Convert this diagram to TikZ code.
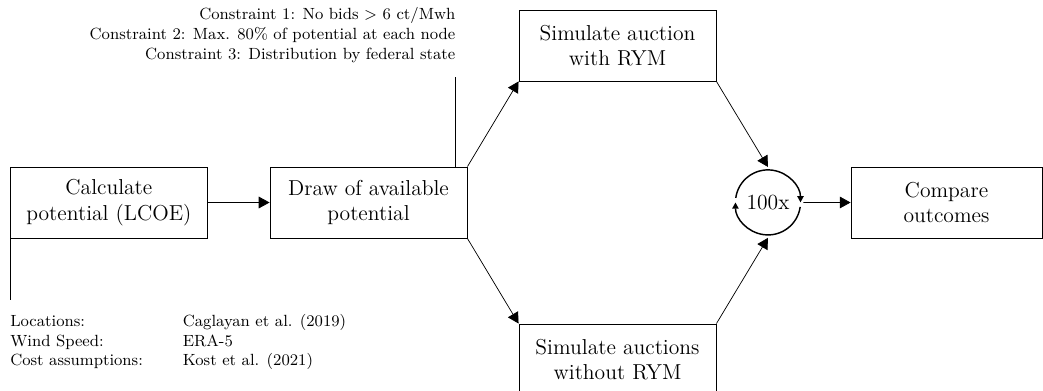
\documentclass[tikz,border=0pt]{standalone}
\usepackage{amsmath}
\usepackage{xcolor}
\usetikzlibrary{arrows.meta}
\usetikzlibrary{positioning}

\tikzset{
box/.style={draw, align=center, minimum width=3.85cm, minimum height=1.39cm, font=\large},
arr/.style={-{Triangle[length=6pt,width=6.5pt]}},
looparr/.style={thick, -{Triangle[length=3.5pt,width=3.5pt]}},
}

\begin{document}
\begin{tikzpicture}
\useasboundingbox (0,0) rectangle (20.365,-7.634);

\node[box] (calc) at (2.126,-3.954) {Calculate\\potential (LCOE)};
\node[box] (avail) at (7.195,-3.954) {Draw of available\\potential};
\node[box] (rym) at (12.057,-0.888) {Simulate auction\\with RYM};
\node[box] (norym) at (12.057,-7.019) {Simulate auctions\\without RYM};
\node[circle, minimum size=1.37cm, font=\large] (loop) at (14.995,-3.952) {100x};
\node[box, minimum width=3.73cm] (comp) at (18.48,-3.954) {Compare\\outcomes};

% inputs below the first step
\node[below=1.21cm of calc.south west, anchor=north west, inner xsep=0, inner ysep=6.5pt, font=\small] (sources) {%
\begin{tabular}{@{}p{3.37cm}@{}l@{}}
Locations: & Caglayan et al. (2019)\\
Wind Speed: & ERA-5\\
Cost assumptions: & Kost et al. (2021)
\end{tabular}};
\draw (calc.south west) -- (sources.north west);

% constraints above the draw
\coordinate (cfoot) at ([xshift=-0.23cm]avail.north east);
\node[above=1.74cm of cfoot, anchor=south east, align=right, inner xsep=0, inner ysep=8pt, font=\small] (cons) {Constraint 1: No bids $>$ 6 ct/Mwh\\
Constraint 2: Max. 80\% of potential at each node\\
Constraint 3: Distribution by federal state};
\draw (cfoot) -- (cons.south east);

\draw[arr] (calc) -- (avail);
\draw[arr] (avail.north east) -- (rym.south west);
\draw[arr] (avail.south east) -- (norym.north west);
\draw[arr] (rym.south east) -- (loop.north);
\draw[arr] (norym.north east) -- (loop.south);
\draw[arr] (loop.east) -- (comp.west);

% repeat loop
\def\rad{0.635}
\draw[looparr] ([shift={(-8:\rad)}]loop.center) arc[start angle=-8, end angle=-180, radius=\rad];
\draw[looparr] ([shift={(172:\rad)}]loop.center) arc[start angle=172, end angle=0, radius=\rad];

\end{tikzpicture}
\end{document}
